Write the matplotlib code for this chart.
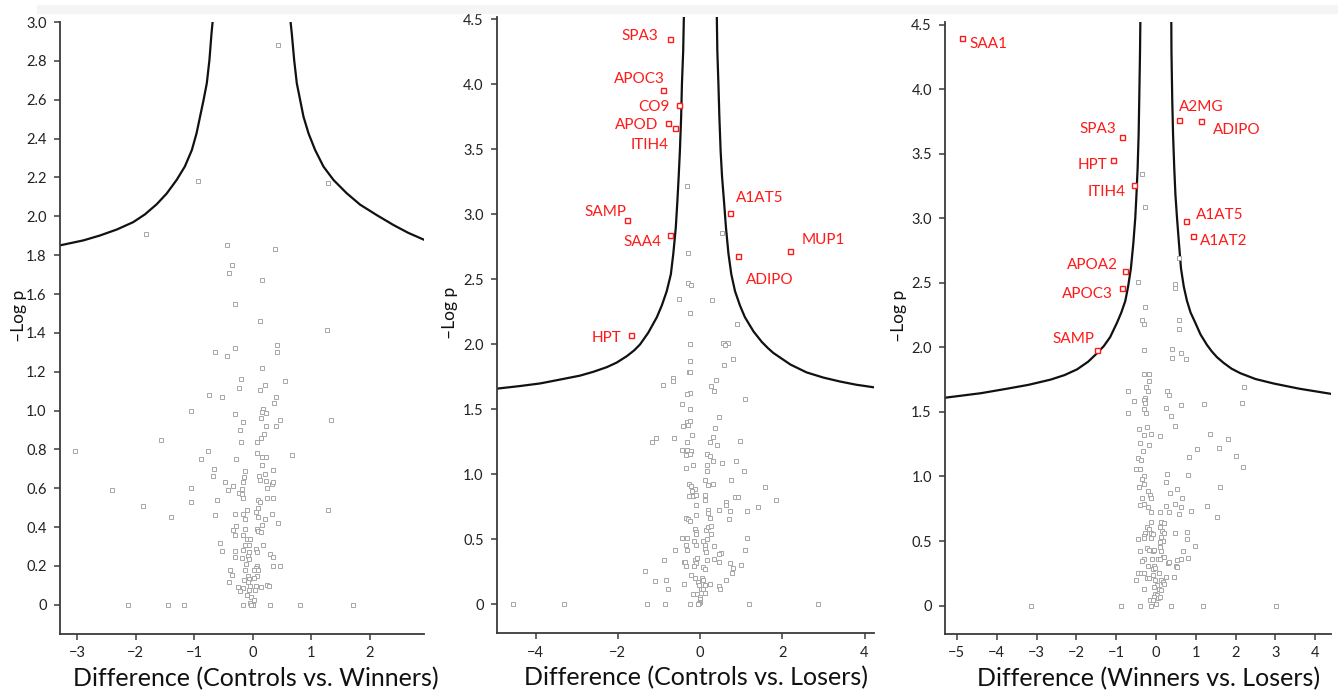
import matplotlib
matplotlib.use("Agg")
import matplotlib.pyplot as plt
from matplotlib.patches import Rectangle

plt.rcParams['font.family'] = ['Lato', 'DejaVu Sans']

# ---------------- data: Controls vs. Winners ----------------
w_x = [0.43, -0.93, 1.29, -1.83, -0.44, 0.38, -0.36, -0.40, 0.16, -0.30, 0.12, 1.27, 0.42, -0.31,
       -0.65, -0.44, 0.41, 0.15, -0.21, 0.55, -0.24, 0.12, 0.20, -0.74, -0.52, 0.39, 0.36, -1.05,
       0.17, 0.16, 0.22, -0.31, -0.17, 0.14, 0.47, 1.33, -0.22, 0.22, 0.39, 0.19, 0.14, 0.07, -0.20,
       -1.56, -3.04, -0.76, -0.88, -0.28, 0.07, 0.15, 0.22, 0.67, 0.15, -0.66, -0.68, -0.14, -0.15,
       0.10, 0.13, 0.20, 0.22, 0.34, -0.17, -0.48, -0.33, 0.32, 0.35, 0.25, -2.41, -1.06, -0.42,
       -0.18, -0.24, -0.18, -0.16, -0.61, -1.05, 0.09, 0.13, 0.24, 0.34, -1.88, -0.10, 0.09, 1.28,
       0.06, -0.30, -0.16, 0.32, -0.65, -1.39, -0.13, 0.09, 0.21, 0.43, 0.15, -0.28, 0.07, -0.33,
       -0.14, 0.09, 0.14, -0.31, -0.17, -0.10, -0.04, -0.56, -0.14, -0.07, 0.18, -0.53, -0.31,
       -0.16, -0.07, 0.06, 0.07, 0.30, -0.31, -0.19, -0.09, 0.35, -0.07, -0.12, 0.35, 0.46, 0.07,
       0.05, 0.02, 0.09, -0.39, -0.14, -0.36, -0.08, 0.07, 0.02, -0.15, -0.07, -0.40, -0.08, -0.26,
       -0.17, -0.22, -0.05, 0.06, 0.14, 0.24, 0.27, -0.06, 0.03, -0.10, -0.03, 0.02, -0.04, 0.00,
       0.01, -0.03, -2.13, -1.44, -1.17, -0.17, 0.30, 0.81, 1.71]
w_y = [2.88, 2.18, 2.17, 1.91, 1.85, 1.83, 1.75, 1.71, 1.67, 1.55, 1.46, 1.415, 1.34, 1.32,
       1.30, 1.28, 1.30, 1.22, 1.16, 1.15, 1.115, 1.105, 1.13, 1.08, 1.07, 1.07, 1.04, 1.00,
       1.01, 0.995, 0.99, 0.98, 0.94, 0.96, 0.95, 0.95, 0.90, 0.92, 0.92, 0.88, 0.86, 0.84, 0.84,
       0.85, 0.79, 0.79, 0.75, 0.75, 0.78, 0.76, 0.76, 0.77, 0.72, 0.70, 0.665, 0.69, 0.66,
       0.665, 0.645, 0.675, 0.64, 0.695, 0.63, 0.63, 0.61, 0.62, 0.63, 0.60, 0.59, 0.60, 0.59,
       0.595, 0.575, 0.57, 0.55, 0.54, 0.53, 0.54, 0.53, 0.55, 0.55, 0.51, 0.49, 0.50, 0.49,
       0.48, 0.47, 0.47, 0.47, 0.46, 0.45, 0.44, 0.45, 0.44, 0.42, 0.41, 0.405, 0.39, 0.385,
       0.39, 0.38, 0.375, 0.36, 0.36, 0.34, 0.34, 0.32, 0.31, 0.31, 0.31, 0.275, 0.275,
       0.28, 0.27, 0.29, 0.27, 0.26, 0.245, 0.24, 0.25, 0.245, 0.235, 0.21, 0.20, 0.20, 0.20,
       0.19, 0.18, 0.18, 0.18, 0.18, 0.155, 0.15, 0.15, 0.14, 0.13, 0.135, 0.12, 0.12, 0.09,
       0.085, 0.07, 0.095, 0.095, 0.09, 0.10, 0.095, 0.075, 0.075, 0.05, 0.04, 0.025, 0.01, 0.0,
       0.0, 0.0, 0.0, 0.0, 0.0, 0.0, 0.0, 0.0, 0.0]
w_curve_left_x = [-3.28, -2.89, -2.61, -2.32, -2.04, -1.84, -1.64, -1.47, -1.30, -1.16, -1.04,
                  -0.96, -0.90, -0.84, -0.785, -0.74, -0.705, -0.68]
w_curve_left_y = [1.851, 1.876, 1.901, 1.932, 1.970, 2.010, 2.062, 2.117, 2.187, 2.256, 2.341,
                  2.427, 2.513, 2.599, 2.685, 2.805, 2.94, 3.02]
w_curve_right_x = [0.637, 0.665, 0.705, 0.75, 0.807, 0.864, 0.95, 1.063, 1.205, 1.376, 1.60,
                   1.83, 2.12, 2.40, 2.65, 2.93]
w_curve_right_y = [3.02, 2.94, 2.805, 2.685, 2.599, 2.513, 2.427, 2.341, 2.256, 2.187, 2.119,
                   2.06, 2.005, 1.955, 1.915, 1.878]

# ---------------- data: Controls vs. Losers ----------------
l_x = [-0.31, 0.53, -0.29, -0.29, -0.23, -0.52, 0.29, -0.24, 0.89, -0.25, 0.55, 0.69, 0.61,
       -0.24, -0.26, -0.24, 0.81, 0.58, -0.66, -0.66, -0.89, 0.38, 0.27, 0.35, -0.25, -0.32,
       1.10, -0.43, -0.25, 0.47, -0.32, -0.24, -0.30, -0.41, 0.36, -0.19, 0.31, -1.08, -1.18,
       -0.63, -0.31, 0.23, 0.41, 0.96, -0.43, -0.31, -0.23, -0.35, -0.24, 0.17, 0.25, 0.31, 0.54,
       0.88, -0.17, 0.17, 0.17, -0.35, 1.06, 0.13, 0.76, 0.19, 0.32, -0.26, -0.23, -0.12, -0.19,
       1.58, -0.28, -0.18, -0.11, 0.11, 0.11, 0.84, 0.93, 1.84, -0.09, 0.63, 0.63, 1.41, 0.47,
       0.19, 0.20, 0.72, 1.14, -0.11, 0.24, 0.71, -0.33, -0.30, -0.24, -0.12, -0.11, -0.11, 0.14,
       0.20, 0.26, 0.27, -0.44, -0.32, -0.15, -0.11, 0.08, 0.16, 0.13, -0.34, 0.34, 1.13, 1.10,
       -0.60, -0.32, 0.13, 0.14, 0.50, 0.45, -0.88, -0.40, -0.36, -0.34, -0.13, -0.10, -0.15,
       -0.07, 0.17, 0.35, 0.46, 0.72, 1.00, 0.06, 0.11, 0.81, 0.78, -1.34, -0.21, -0.13, 0.05,
       0.08, -1.10, -0.82, -0.79, 0.62, -0.38, -0.05, -0.02, 0.03, 0.12, 0.08, 0.23, 0.45, 0.49,
       -0.16, -0.08, 0.01, 0.11, 0.00, 0.00, -0.03, -4.55, -3.31, -1.28, -0.85, -0.25, -0.06,
       1.18, 2.86]
l_y = [3.22, 2.86, 2.70, 2.47, 2.46, 2.35, 2.34, 2.24, 2.155, 2.00, 2.01, 2.01, 1.995,
       1.875, 1.79, 1.79, 1.89, 1.84, 1.74, 1.72, 1.69, 1.73, 1.68, 1.64, 1.625, 1.615,
       1.58, 1.54, 1.505, 1.44, 1.40, 1.41, 1.38, 1.37, 1.36, 1.30, 1.29, 1.28, 1.25,
       1.28, 1.25, 1.25, 1.23, 1.26, 1.19, 1.19, 1.18, 1.15, 1.155, 1.16, 1.14, 1.10, 1.09,
       1.105, 1.07, 1.07, 1.03, 1.05, 1.03, 0.955, 0.955, 0.92, 0.925, 0.93, 0.91, 0.89, 0.875,
       0.90, 0.835, 0.835, 0.845, 0.84, 0.805, 0.825, 0.825, 0.80, 0.765, 0.79, 0.765, 0.75, 0.725,
       0.725, 0.705, 0.715, 0.72, 0.685, 0.665, 0.66, 0.665, 0.655, 0.645, 0.58, 0.555, 0.545, 0.575,
       0.595, 0.60, 0.54, 0.51, 0.51, 0.49, 0.455, 0.49, 0.50, 0.46, 0.455, 0.45, 0.51, 0.42,
       0.42, 0.415, 0.43, 0.40, 0.395, 0.39, 0.34, 0.33, 0.33, 0.295, 0.34, 0.315, 0.295,
       0.355, 0.34, 0.35, 0.33, 0.32, 0.30, 0.29, 0.27, 0.28, 0.24, 0.26, 0.225, 0.205, 0.205,
       0.19, 0.18, 0.19, 0.12, 0.19, 0.16, 0.17, 0.15, 0.12, 0.15, 0.115, 0.155, 0.14, 0.12,
       0.08, 0.077, 0.06, 0.09, 0.04, 0.02, 0.01, 0.0, 0.0, 0.0, 0.0, 0.0, 0.0,
       0.0, 0.0]
l_sig_names = ['SPA3', 'APOC3', 'CO9', 'APOD', 'ITIH4', 'SAMP', 'SAA4', 'A1AT5', 'ADIPO', 'MUP1', 'HPT']
l_sig_x = [-0.74, -0.91, -0.52, -0.79, -0.61, -1.77, -0.73, 0.74, 0.92, 2.19, -1.67]
l_sig_y = [4.35, 3.96, 3.84, 3.70, 3.665, 2.956, 2.84, 3.015, 2.68, 2.715, 2.07]
l_curve_left_x = [-4.94, -4.38, -3.89, -3.40, -2.92, -2.59, -2.27, -2.03, -1.78, -1.60, -1.46,
                  -1.26, -1.05, -0.93, -0.81, -0.71, -0.65, -0.59, -0.55, -0.52, -0.49, -0.46,
                  -0.44, -0.41, -0.39]
l_curve_left_y = [1.66, 1.68, 1.70, 1.73, 1.76, 1.79, 1.825, 1.86, 1.91, 1.955, 2.00,
                  2.09, 2.21, 2.30, 2.41, 2.54, 2.70, 2.90, 3.11, 3.29, 3.49, 3.75,
                  4.01, 4.26, 4.58]
l_curve_right_x = [0.405, 0.42, 0.446, 0.47, 0.50, 0.535, 0.58, 0.63, 0.69, 0.76, 0.85, 0.97,
                   1.09, 1.30, 1.50, 1.64, 1.78, 2.20, 2.59, 3.00, 3.40, 3.80, 4.23]
l_curve_right_y = [4.58, 4.26, 4.01, 3.75, 3.49, 3.29, 3.11, 2.90, 2.70, 2.54, 2.41, 2.30,
                   2.21, 2.10, 2.02, 1.975, 1.935, 1.845, 1.785, 1.745, 1.715, 1.69, 1.67]

# ---------------- data: Winners vs. Losers ----------------
wl_x = [-0.36, -0.27, 0.59, -0.44, 0.49, 0.49, -0.27, -0.34, -0.31, 0.58, 0.58,
        -0.29, 0.41, 0.41, 0.64, 0.75, -0.29, -0.18, -0.18, -0.24, -0.69, -0.21, 0.28, 0.34,
        2.21, -0.28, -0.31, -0.28, -0.54, 2.16, 1.20, 0.63, 0.25, -0.29, -0.24, -0.69, 0.38,
        0.49, -0.23, -0.42, -0.29, -0.13, 0.11, 1.37, 1.80, -0.40, -0.18, 1.58, 1.04, -0.33,
        2.01, 0.83, -0.44, -0.38, 2.18, -0.50, -0.40, 0.28, 0.80, -0.31, -0.35, -0.29, 0.25,
        -0.43, 1.60, 0.53, -0.20, -0.16, -0.13, 0.36, 0.66, -0.34, -0.39, -0.29, 0.48, 0.25,
        0.64, 1.28, -0.21, -0.13, 0.11, 0.34, 0.89, 0.59, 1.54, -0.12, 0.13, 0.19, -0.23, -0.18,
        -0.28, -0.31, 0.11, 0.15, 0.19, 0.13, -0.13, -0.08, 0.48, 0.78, 0.78, -0.45, -0.29,
        -0.13, 0.18, 0.11, 0.97, 0.10, 0.12, -0.22, -0.18, -0.39, -0.08, -0.06, 0.68, 0.18,
        0.21, 0.64, 0.80, -0.31, -0.34, -0.09, 0.06, 0.11, 0.54, 0.30, 0.34, 0.50, 0.54, -0.20,
        -0.05, -0.08, -0.03, -0.44, -0.38, -0.29, 0.08, -0.07, -0.23, -0.18, -0.49, 0.25, 0.45,
        0.12, 0.18, 0.21, -0.03, 0.03, -0.05, -0.29, 0.08, 0.13, -0.02, 0.03, 0.05, 0.09, -0.04,
        -0.14, 0.00, -0.08, -3.15, -0.89, -0.40, -0.13, 0.39, 1.18, 3.02]
wl_y = [3.34, 3.09, 2.69, 2.51, 2.49, 2.46, 2.31, 2.21, 2.18, 2.21, 2.145,
        1.98, 1.99, 1.92, 1.96, 1.91, 1.79, 1.79, 1.74, 1.69, 1.66, 1.66, 1.665, 1.63,
        1.69, 1.61, 1.59, 1.57, 1.585, 1.57, 1.56, 1.55, 1.53, 1.525, 1.495, 1.49, 1.47,
        1.39, 1.38, 1.37, 1.32, 1.33, 1.31, 1.33, 1.29, 1.26, 1.24, 1.22, 1.21, 1.20,
        1.16, 1.15, 1.14, 1.13, 1.07, 1.06, 1.055, 1.02, 1.01, 1.00, 0.98, 0.94, 0.96,
        0.92, 0.915, 0.90, 0.887, 0.86, 0.83, 0.87, 0.835, 0.835, 0.78, 0.79, 0.79, 0.775,
        0.76, 0.775, 0.76, 0.725, 0.725, 0.725, 0.735, 0.71, 0.69, 0.645, 0.645, 0.64, 0.61, 0.59,
        0.56, 0.54, 0.61, 0.58, 0.56, 0.53, 0.56, 0.555, 0.56, 0.57, 0.515, 0.515, 0.52,
        0.525, 0.50, 0.49, 0.46, 0.45, 0.42, 0.445, 0.43, 0.42, 0.42, 0.43, 0.42, 0.38,
        0.375, 0.36, 0.37, 0.36, 0.345, 0.36, 0.36, 0.36, 0.35, 0.33, 0.335, 0.31, 0.30, 0.31,
        0.31, 0.28, 0.295, 0.25, 0.25, 0.25, 0.25, 0.235, 0.21, 0.21, 0.20, 0.22, 0.225,
        0.195, 0.18, 0.17, 0.195, 0.16, 0.145, 0.13, 0.13, 0.12, 0.09, 0.08, 0.055, 0.067, 0.07,
        0.04, 0.015, 0.04, 0.0, 0.0, 0.0, 0.0, 0.0, 0.0, 0.0]
wl_sig_names = ['SAA1', 'A2MG', 'ADIPO', 'SPA3', 'HPT', 'ITIH4', 'A1AT5', 'A1AT2', 'APOA2', 'APOC3', 'SAMP']
wl_sig_x = [-4.88, 0.59, 1.14, -0.85, -1.07, -0.55, 0.75, 0.92, -0.77, -0.85, -1.49]
wl_sig_y = [4.40, 3.76, 3.75, 3.63, 3.45, 3.255, 2.98, 2.86, 2.59, 2.46, 1.98]
wl_curve_left_x = [-5.30, -4.40, -3.74, -3.20, -2.65, -2.30, -1.98, -1.70, -1.48, -1.31, -1.15,
                   -0.98, -0.87, -0.77, -0.70, -0.63, -0.57, -0.52, -0.49, -0.46, -0.435, -0.42,
                   -0.40, -0.39]
wl_curve_left_y = [1.61, 1.645, 1.68, 1.71, 1.75, 1.785, 1.83, 1.89, 1.955, 2.01, 2.08,
                   2.19, 2.27, 2.36, 2.47, 2.61, 2.80, 3.00, 3.18, 3.39, 3.65, 3.91,
                   4.29, 4.58]
wl_curve_right_x = [0.385, 0.39, 0.41, 0.43, 0.46, 0.49, 0.53, 0.58, 0.63, 0.70, 0.78, 0.87,
                    0.99, 1.12, 1.28, 1.40, 1.53, 1.70, 1.90, 2.12, 2.50, 2.96, 3.60, 4.40]
wl_curve_right_y = [4.58, 4.29, 3.91, 3.65, 3.39, 3.18, 3.00, 2.80, 2.61, 2.47, 2.36, 2.27,
                    2.19, 2.10, 2.02, 1.97, 1.925, 1.88, 1.835, 1.80, 1.755, 1.72, 1.68, 1.64]

# label offsets (pixels, right/left aligned, text middle)
l_label_off = [(-11, 4, 'right'), (2, 12, 'right'), (-9, 0, 'right'), (-9, 0, 'right'), (-6, -15, 'right'),
               (-1, 10, 'right'), (-9, -5, 'right'), (5, 16, 'left'), (8, -22, 'left'), (12, 13, 'left'),
               (-10, -1, 'right')]
wl_label_off = [(8, -5, 'left'), (0, 15, 'left'), (12, -7, 'left'), (-6, 9, 'right'), (-6, -3, 'right'),
                (-8, -5, 'right'), (10, 7, 'left'), (7, -3, 'left'), (-7, 8, 'right'), (-9, -5, 'right'),
                (-2, 12, 'right')]

GRAY = '#a6a6a6'
RED = '#ff1a1a'
SPINE = '#3a3a3a'

fig = plt.figure(figsize=(13.38, 6.97), dpi=100)
fig.patches.append(Rectangle((0.028, 0.982), 0.972, 0.011, transform=fig.transFigure,
                             color='#f5f5f5', zorder=0))


def style_axes(ax, xlim, ylim, xticks, yticks, ylabels, xlabel, xlabel_x, ylabel_x):
    ax.set_xlim(*xlim)
    ax.set_ylim(*ylim)
    for s in ['top', 'right']:
        ax.spines[s].set_visible(False)
    for s in ['left', 'bottom']:
        ax.spines[s].set_color(SPINE)
        ax.spines[s].set_linewidth(1.3)
    ax.set_xticks(xticks)
    ax.set_xticklabels([str(t).replace('-', '\u2212') for t in xticks])
    ax.set_yticks(yticks)
    ax.set_yticklabels(ylabels)
    ax.tick_params(direction='out', length=4, width=1.1, color=SPINE, labelsize=10.5,
                   labelcolor='#222222')
    ax.tick_params(axis='y', pad=5.5)
    ax.tick_params(axis='x', pad=5)
    ax.set_xlabel(xlabel, fontsize=18, color='#111111')
    ax.xaxis.set_label_coords(xlabel_x, -0.054)
    ax.set_ylabel('\u2013Log p', fontsize=12.5, color='#111111')
    ax.yaxis.set_label_coords(ylabel_x, 0.52)


def draw_panel(ax, px, py, clx, cly, crx, cry):
    ax.plot(clx, cly, color='#111111', lw=1.6, zorder=2, solid_joinstyle='round')
    ax.plot(crx, cry, color='#111111', lw=1.6, zorder=2, solid_joinstyle='round')
    ax.plot(px, py, linestyle='none', marker='s', markersize=3.3, markerfacecolor='white',
            markeredgecolor=GRAY, markeredgewidth=0.7, zorder=3)


def draw_sig(ax, names, sx, sy, offs):
    ax.plot(sx, sy, linestyle='none', marker='s', markersize=3.6, markerfacecolor='white',
            markeredgecolor=RED, markeredgewidth=1.0, zorder=4)
    for n, x, y, (dx, dy, ha) in zip(names, sx, sy, offs):
        ax.annotate(n, (x, y), xytext=(dx * 0.72, (dy - 5.5) * 0.72), textcoords='offset points',
                    ha=ha, va='baseline', color=RED, fontsize=11, zorder=5)


# panel 1
ax1 = fig.add_axes([0.0448, 0.0904, 0.2721, 0.878])
draw_panel(ax1, w_x, w_y, w_curve_left_x, w_curve_left_y, w_curve_right_x, w_curve_right_y)
yt1 = [0, 0.2, 0.4, 0.6, 0.8, 1.0, 1.2, 1.4, 1.6, 1.8, 2.0, 2.2, 2.4, 2.6, 2.8, 3.0]
style_axes(ax1, (-3.29, 2.92), (-0.15, 3.0), [-3, -2, -1, 0, 1, 2], yt1,
           ['0'] + ['%.1f' % v for v in yt1[1:]], 'Difference (Controls vs. Winners)', 0.538, -0.09)

# panel 2
ax2 = fig.add_axes([0.3714, 0.0918, 0.2818, 0.884])
draw_panel(ax2, l_x, l_y, l_curve_left_x, l_curve_left_y, l_curve_right_x, l_curve_right_y)
draw_sig(ax2, l_sig_names, l_sig_x, l_sig_y, l_label_off)
yt2 = [0, 0.5, 1.0, 1.5, 2.0, 2.5, 3.0, 3.5, 4.0, 4.5]
style_axes(ax2, (-4.94, 4.23), (-0.22, 4.52), [-4, -2, 0, 2, 4], yt2,
           ['0'] + ['%.1f' % v for v in yt2[1:]], 'Difference (Controls vs. Losers)', 0.528, -0.103)

# panel 3
ax3 = fig.add_axes([0.7063, 0.0904, 0.2885, 0.878])
draw_panel(ax3, wl_x, wl_y, wl_curve_left_x, wl_curve_left_y, wl_curve_right_x, wl_curve_right_y)
draw_sig(ax3, wl_sig_names, wl_sig_x, wl_sig_y, wl_label_off)
style_axes(ax3, (-5.3, 4.4), (-0.22, 4.52), [-5, -4, -3, -2, -1, 0, 1, 2, 3, 4], yt2,
           ['0'] + ['%.1f' % v for v in yt2[1:]], 'Difference (Winners vs. Losers)', 0.528, -0.099)

fig.savefig('out.png', dpi=100, facecolor='white')
